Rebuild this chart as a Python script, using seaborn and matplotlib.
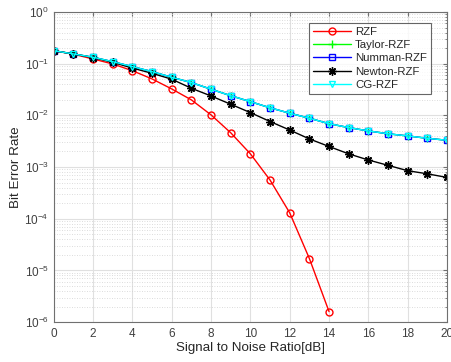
import numpy as np
import pandas as pd
import matplotlib
matplotlib.use("Agg")
import matplotlib.pyplot as plt
import seaborn as sns
from matplotlib.ticker import LogLocator, NullFormatter

snr = list(range(0, 21))
rzf = [0.178, 0.152, 0.123, 0.0986, 0.073, 0.0506, 0.0324, 0.0199, 0.0102,
       0.0046, 0.0018, 0.00056, 1.3e-4, 1.7e-5, 1.6e-6]
taylor = [0.178, 0.154, 0.133, 0.109, 0.0875, 0.070, 0.0545, 0.043, 0.032,
          0.024, 0.0184, 0.014, 0.011, 0.0088, 0.0069, 0.0058, 0.0050,
          0.0044, 0.0040, 0.0036, 0.0033]
numman = [0.178, 0.154, 0.133, 0.109, 0.0875, 0.070, 0.0545, 0.043, 0.032,
          0.024, 0.0184, 0.014, 0.011, 0.0088, 0.0069, 0.0058, 0.0050,
          0.0044, 0.0040, 0.0036, 0.0033]
newton = [0.178, 0.154, 0.131, 0.106, 0.082, 0.065, 0.050, 0.0334, 0.0237,
          0.0164, 0.0113, 0.0076, 0.0052, 0.0035, 0.0025, 0.0018, 0.00137,
          0.00108, 0.00085, 0.00074, 0.00063]
cg = [0.178, 0.154, 0.133, 0.109, 0.0875, 0.070, 0.0545, 0.043, 0.032,
      0.024, 0.0184, 0.014, 0.011, 0.0088, 0.0069, 0.0058, 0.0050,
      0.0044, 0.0040, 0.0036, 0.0033]

series = [
    ("RZF", rzf, "#ff0000", "o", 5),
    ("Taylor-RZF", taylor, "#00ff00", "+", 6),
    ("Numman-RZF", numman, "#0000ff", "s", 4.5),
    ("Newton-RZF", newton, "#000000", (8, 2, 0), 6),
    ("CG-RZF", cg, "#00ffff", "v", 5),
]

sns.set_style("white")
plt.rcParams['font.family'] = ['Liberation Sans', 'DejaVu Sans']

fig = plt.figure(figsize=(4.52, 3.62), dpi=100)
ax = fig.add_axes([0.119, 0.110, 0.870, 0.857])

for name, vals, col, mk, ms in series:
    df = pd.DataFrame({"snr": snr[:len(vals)], "ber": vals})
    sns.lineplot(data=df, x="snr", y="ber", ax=ax, color=col, marker=mk,
                 markersize=ms, markerfacecolor="none", markeredgecolor=col,
                 markeredgewidth=1.0, linewidth=1.0, label=name)

ax.set_yscale("log")
ax.set_xlim(0, 20)
ax.set_ylim(1e-6, 1)
ax.set_xticks(range(0, 21, 2))
ax.yaxis.set_major_locator(LogLocator(base=10, numticks=10))
ax.yaxis.set_minor_locator(LogLocator(base=10, subs=np.arange(2, 10), numticks=100))
ax.yaxis.set_minor_formatter(NullFormatter())

ax.grid(True, which="major", color="#e0e0e0", linewidth=0.8)
ax.grid(True, which="minor", axis="y", color="#d0d0d0", linewidth=0.6, linestyle=(0, (1, 2)))
ax.set_axisbelow(True)

for s in ax.spines.values():
    s.set_color("#707070")
    s.set_linewidth(0.8)
ax.tick_params(axis="both", which="both", direction="in", colors="#707070",
               labelcolor="#404040", labelsize=8.5, length=3, top=True, right=True)
ax.tick_params(axis="y", which="minor", length=1.5)
ax.tick_params(axis="x", pad=4)

ax.set_xlabel("Signal to Noise Ratio[dB]", fontsize=9.6, color="#262626", va="center")
ax.xaxis.set_label_coords(0.5, -0.084)
ax.set_ylabel("Bit Error Rate", fontsize=9.6, color="#262626", labelpad=2)

leg = ax.legend(loc="upper right", bbox_to_anchor=(0.968, 0.975), fontsize=8.2,
                frameon=True, fancybox=False, edgecolor="#404040",
                handlelength=3.3, borderpad=0.35, labelspacing=0.28,
                handletextpad=0.4, borderaxespad=0.3)
leg.get_frame().set_linewidth(0.8)

fig.savefig("out.png", dpi=100)
